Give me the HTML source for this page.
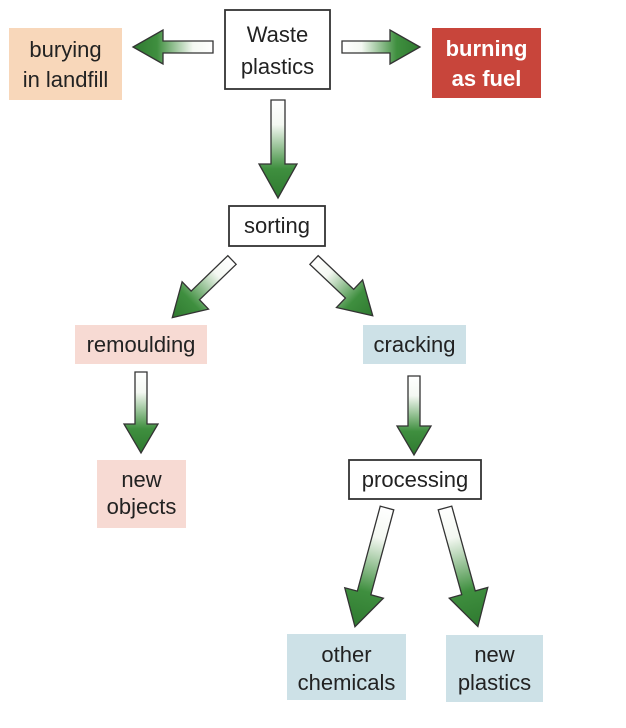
<!DOCTYPE html>
<html><head><meta charset="utf-8"><style>
html,body{margin:0;padding:0;background:#fff;}
svg{display:block;}
text{font-family:"Liberation Sans",sans-serif;font-size:22px;fill:#222;text-anchor:middle;}
</style></head><body>
<svg width="626" height="728" viewBox="0 0 626 728">
<defs>
<linearGradient id="g" x1="0" y1="0" x2="1" y2="0">
<stop offset="0" stop-color="#ffffff"/>
<stop offset="0.25" stop-color="#f4f8f2"/>
<stop offset="0.7" stop-color="#3f8f3f"/>
<stop offset="1" stop-color="#2f7a30"/>
</linearGradient>
</defs>
<g fill="url(#g)" stroke="#333" stroke-width="1.3" stroke-linejoin="miter">
<polygon transform="translate(213,47) rotate(180)" points="0,-6 50,-6 50,-17 80,0 50,17 50,6 0,6"/>
<polygon transform="translate(342,47)" points="0,-6 48,-6 48,-17 78,0 48,17 48,6 0,6"/>
<polygon transform="translate(278,100) rotate(90)" points="0,-7 64,-7 64,-19 98,0 64,19 64,7 0,7"/>
<polygon transform="translate(232,260) rotate(136)" points="0,-6 51,-6 51,-19 83,0 51,19 51,6 0,6"/>
<polygon transform="translate(314,260) rotate(43.5)" points="0,-6 49,-6 49,-19 81,0 49,19 49,6 0,6"/>
<polygon transform="translate(141,372) rotate(90)" points="0,-6 52,-6 52,-17 81,0 52,17 52,6 0,6"/>
<polygon transform="translate(414,376) rotate(90)" points="0,-6 50,-6 50,-17 79,0 50,17 50,6 0,6"/>
<polygon transform="translate(387,508) rotate(105.1)" points="0,-7 88,-7 88,-20 123,0 88,20 88,7 0,7"/>
<polygon transform="translate(445,508) rotate(74.5)" points="0,-7 88,-7 88,-20 123,0 88,20 88,7 0,7"/>
</g>

<rect x="225" y="10" width="105" height="79" fill="#fff" stroke="#333" stroke-width="1.8"/>
<text x="277.5" y="42">Waste</text>
<text x="277.5" y="74">plastics</text>

<rect x="9" y="28" width="113" height="72" fill="#f8d7ba"/>
<text x="65.5" y="57">burying</text>
<text x="65.5" y="87">in landfill</text>

<rect x="432" y="28" width="109" height="70" fill="#c8453b"/>
<text x="486.5" y="56" style="fill:#fff;font-weight:bold">burning</text>
<text x="486.5" y="86" style="fill:#fff;font-weight:bold">as fuel</text>

<rect x="229" y="206" width="96" height="40" fill="#fff" stroke="#333" stroke-width="1.8"/>
<text x="277" y="233">sorting</text>

<rect x="75" y="325" width="132" height="39" fill="#f7dad3"/>
<text x="141" y="352">remoulding</text>

<rect x="363" y="325" width="103" height="39" fill="#cde1e7"/>
<text x="414.5" y="352">cracking</text>

<rect x="97" y="460" width="89" height="68" fill="#f7dad3"/>
<text x="141.5" y="487">new</text>
<text x="141.5" y="514">objects</text>

<rect x="349" y="460" width="132" height="39" fill="#fff" stroke="#333" stroke-width="1.8"/>
<text x="415" y="487">processing</text>

<rect x="287" y="634" width="119" height="66" fill="#cde1e7"/>
<text x="346.5" y="662">other</text>
<text x="346.5" y="690">chemicals</text>

<rect x="446" y="635" width="97" height="67" fill="#cde1e7"/>
<text x="494.5" y="662">new</text>
<text x="494.5" y="690">plastics</text>
</svg>
</body></html>
